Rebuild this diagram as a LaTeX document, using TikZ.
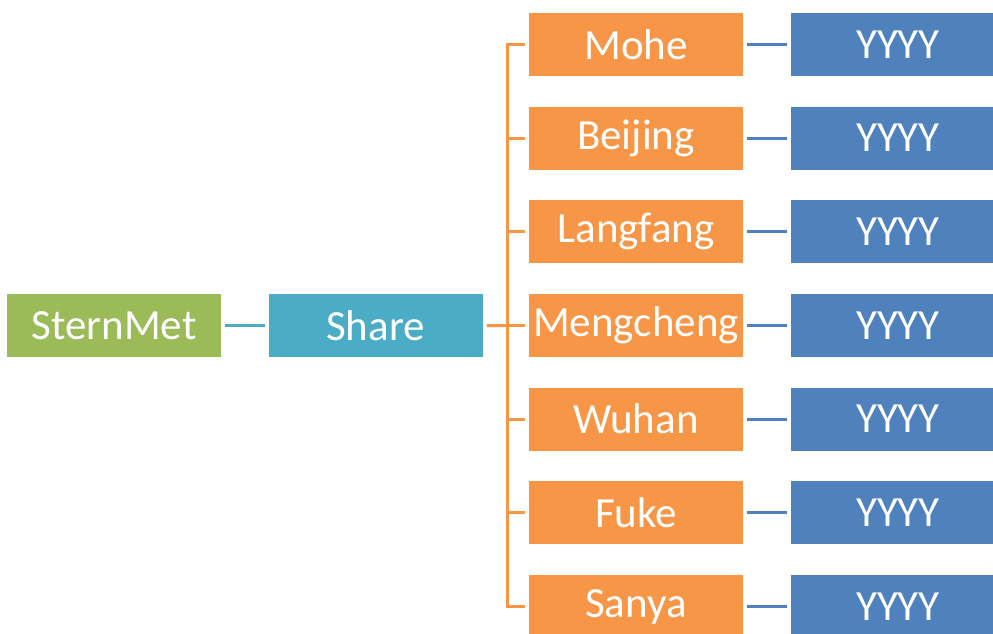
\documentclass[tikz,border=0pt]{standalone}
\usepackage{fontspec}
\setmainfont{Carlito}
\definecolor{cgreen}{HTML}{9BBB59}
\definecolor{cteal}{HTML}{4BACC6}
\definecolor{corange}{HTML}{F79646}
\definecolor{cblue}{HTML}{4F81BD}
\begin{document}
\begin{tikzpicture}[x=1pt,y=-1pt,
  box/.style={rectangle,inner sep=0pt,minimum width=214pt,minimum height=63pt,text=white,font=\fontsize{43}{50}\selectfont},
  gbox/.style={box,fill=cgreen},
  tbox/.style={box,fill=cteal},
  obox/.style={box,fill=corange},
  bbox/.style={box,fill=cblue},
  tline/.style={draw=cteal,line width=3pt},
  oline/.style={draw=corange,line width=3pt},
  bline/.style={draw=cblue,line width=3pt}]
\useasboundingbox (0,0) rectangle (993,633);
\clip (0,0) rectangle (993,633);
\node[gbox] (stern) at (114,325.5) {SternMet};
\node[tbox] (share) at (375.5,325.5) {Share};
\foreach \name/\lab [count=\i from 0] in {mohe/Mohe,beijing/Beijing,langfang/Langfang,mengcheng/Mengcheng,wuhan/Wuhan,fuke/Fuke,sanya/Sanya}{
  \node[obox] (\name) at (636,44.5+93.67*\i) {\lab};
  \node[bbox] (y\name) at (898,44.5+93.67*\i) {YYYY};
  \draw[bline] ([xshift=4pt]\name.east) -- ([xshift=-4pt]y\name.west);
  \coordinate (b\name) at (507,44.5+93.67*\i);
  \draw[oline] (b\name) -- ([xshift=-4pt]\name.west);
}
\draw[tline] ([xshift=4pt]stern.east) -- ([xshift=-3pt]share.west);
\draw[oline] ([xshift=4pt]share.east) -- (bmengcheng);
\draw[oline,line cap=rect] (bmohe) -- (bsanya);
\end{tikzpicture}
\end{document}
